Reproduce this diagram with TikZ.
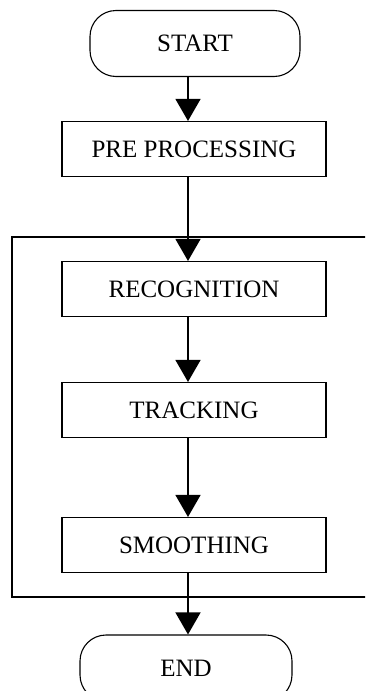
\documentclass[tikz,border=0pt]{standalone}
\usepackage{fontspec}
\setmainfont{Liberation Serif}
\usetikzlibrary{arrows.meta}
\begin{document}
\begin{tikzpicture}[x=1pt,y=-1pt,
  every node/.style={font=\fontsize{25}{28}\selectfont},
  procbox/.style={draw,line width=1.1pt,minimum width=264pt,minimum height=55pt,inner sep=0pt},
  termbox/.style={draw,line width=1.1pt,rounded corners=26pt,minimum height=66pt,inner sep=0pt},
  flow/.style={line width=1.4pt,-{Triangle[width=25pt,length=22pt]}}]
\useasboundingbox (0,0) rectangle (365,691);
\begin{scope}
\clip (0,0) rectangle (365,691);
% enclosing frame, open to the right
\draw[line width=1.1pt] (375,237) -- (12,237) -- (12,597) -- (375,597);
\end{scope}
\node[termbox,minimum width=210pt] (start) at (195,43.5) {START};
\node[procbox] (pre) at (194,149) {PRE PROCESSING};
\node[procbox] (rec) at (194,289) {RECOGNITION};
\node[procbox] (trk) at (194,410) {TRACKING};
\node[procbox] (smo) at (194,545) {SMOOTHING};
\node[termbox,minimum width=212pt] (end) at (186,668) {END};
\coordinate (ax) at (188,0);
\draw[flow] (start.south -| ax) -- (pre.north -| ax);
\draw[flow] (pre.south -| ax) -- (rec.north -| ax);
\draw[flow] (rec.south -| ax) -- (trk.north -| ax);
\draw[flow] (trk.south -| ax) -- (smo.north -| ax);
\draw[flow] (smo.south -| ax) -- (end.north -| ax);
\end{tikzpicture}
\end{document}
